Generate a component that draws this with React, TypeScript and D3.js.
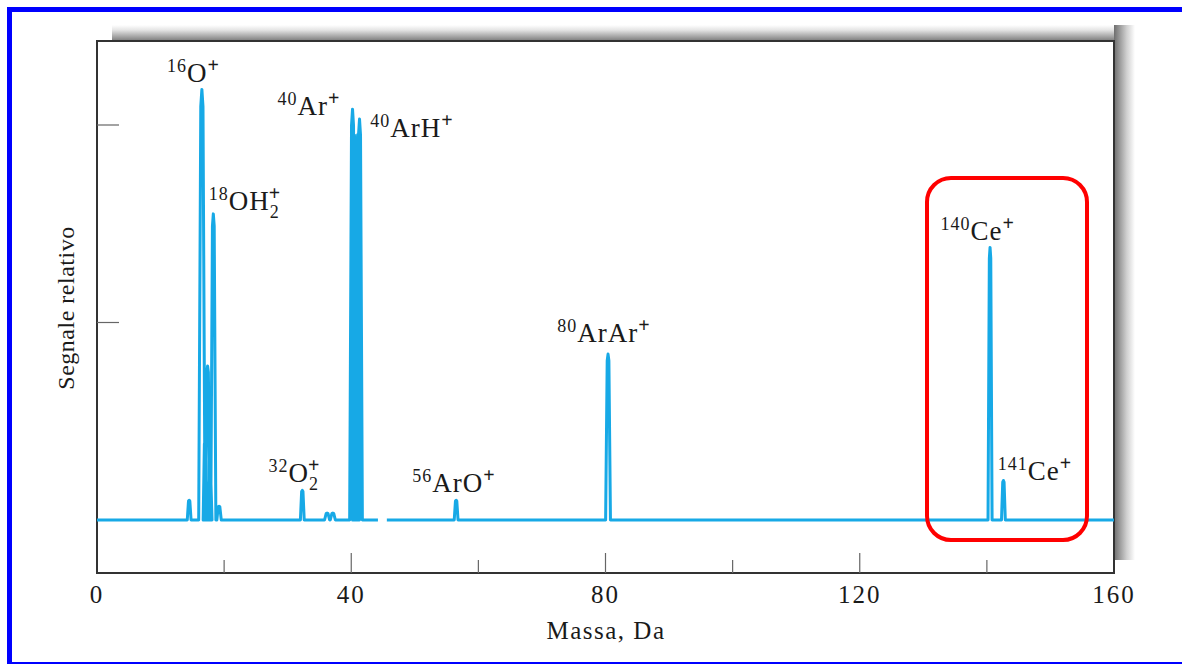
import React from "react";
import * as d3 from "d3";

// ---- data ----
const peakMass = [14.5, 16.5, 17.0, 17.4, 17.8, 18.3, 19.2, 32.3, 36.2, 37.1, 40.2, 40.5, 40.75, 41.0, 41.3, 56.5, 80.4, 140.5, 142.6];
const peakHeight = [0.10, 2.18, 0.40, 0.78, 0.22, 1.55, 0.07, 0.15, 0.035, 0.035, 2.08, 1.95, 1.90, 1.95, 2.03, 0.10, 0.84, 1.38, 0.20];
const peakWidth = [0.3, 0.5, 0.3, 0.35, 0.3, 0.4, 0.35, 0.3, 0.4, 0.4, 0.45, 0.3, 0.3, 0.3, 0.45, 0.3, 0.38, 0.32, 0.3];
const baselineSegments: [number, number][] = [[0, 44.2], [45.6, 160]];

const xTicks = [20, 40, 60, 80, 100, 120, 140];
const xMajor = [40, 80, 120];
const xTickLabels = [0, 40, 80, 120, 160];
const yTicks = [1, 2];

type Part = { t: string; k: "n" | "sup" | "supsub" };
const labelMass = [11.0, 17.6, 27.0, 28.4, 43.0, 49.6, 72.4, 132.7, 141.7];
const labelValue = [2.22, 1.57, 0.192, 2.05, 1.94, 0.142, 0.90, 1.418, 0.203];
const labelParts: Part[][] = [
  [{ t: "16", k: "sup" }, { t: "O", k: "n" }, { t: "+", k: "sup" }],
  [{ t: "18", k: "sup" }, { t: "OH", k: "n" }, { t: "2|+", k: "supsub" }],
  [{ t: "32", k: "sup" }, { t: "O", k: "n" }, { t: "2|+", k: "supsub" }],
  [{ t: "40", k: "sup" }, { t: "Ar", k: "n" }, { t: "+", k: "sup" }],
  [{ t: "40", k: "sup" }, { t: "ArH", k: "n" }, { t: "+", k: "sup" }],
  [{ t: "56", k: "sup" }, { t: "ArO", k: "n" }, { t: "+", k: "sup" }],
  [{ t: "80", k: "sup" }, { t: "ArAr", k: "n" }, { t: "+", k: "sup" }],
  [{ t: "140", k: "sup" }, { t: "Ce", k: "n" }, { t: "+", k: "sup" }],
  [{ t: "141", k: "sup" }, { t: "Ce", k: "n" }, { t: "+", k: "sup" }],
];

const W = 1182, H = 664;
const L = 97, R = 1114, T = 41, B = 573;
const x = d3.scaleLinear().domain([0, 160]).range([L, R]);
const y = d3.scaleLinear().domain([0, 2]).range([520, 125]);

function buildSegments(): [number, number][][] {
  return baselineSegments.map(([a, b]) => {
    const pts: [number, number][] = [[a, 0]];
    peakMass.forEach((m, i) => {
      if (m < a || m > b) return;
      const w = peakWidth[i], h = peakHeight[i];
      pts.push([m - w, 0], [m - w * 0.35, h * 0.96], [m, h], [m + w * 0.35, h * 0.96], [m + w, 0]);
    });
    pts.push([b, 0]);
    return pts;
  });
}

const SERIF = "'Liberation Serif', 'Times New Roman', serif";

function Label({ parts, px, py }: { parts: Part[]; px: number; py: number }) {
  const big = 27, small = 18;
  return (
    <text x={px} y={py} fontFamily={SERIF} fill="#1a1a1a" letterSpacing={1}>
      {parts.map((p, i) => {
        if (p.k === "n") return <tspan key={i} fontSize={big} y={py}>{p.t}</tspan>;
        if (p.k === "sup")
          return (
            <tspan key={i} fontSize={p.t === "+" ? 20 : small} fontWeight={p.t === "+" ? 700 : 400} y={py - 10}>
              {p.t}
            </tspan>
          );
        const [sub, sup] = p.t.split("|");
        return (
          <React.Fragment key={i}>
            <tspan fontSize={small} y={py + 8}>{sub}</tspan>
            <tspan fontSize={20} fontWeight={700} dx={-11} y={py - 10}>{sup}</tspan>
          </React.Fragment>
        );
      })}
    </text>
  );
}

export default function App() {
  const line = d3.line<[number, number]>().x((d) => x(d[0])).y((d) => y(d[1]));
  const segs = buildSegments();
  return (
    <svg width={W} height={H} style={{ position: "absolute", left: 0, top: 0, background: "#fff" }}>
      <defs>
        <linearGradient id="shTop" x1="0" y1="0" x2="0" y2="1">
          <stop offset="0" stopColor="#fff" />
          <stop offset="0.3" stopColor="#e6e6e6" />
          <stop offset="1" stopColor="#7a7a7a" />
        </linearGradient>
        <linearGradient id="shRight" x1="0" y1="0" x2="1" y2="0">
          <stop offset="0" stopColor="#6e6e6e" />
          <stop offset="0.6" stopColor="#cfcfcf" />
          <stop offset="1" stopColor="#fff" />
        </linearGradient>
      </defs>
      {/* blue frame */}
      <rect x={7} y={7} width={W - 7} height={5} fill="#0000ff" />
      <rect x={7} y={7} width={5} height={H - 7} fill="#0000ff" />
      <rect x={7} y={662} width={W - 7} height={2} fill="#0000ff" />
      {/* shadow */}
      <rect x={112} y={25} width={R - 112 + 2} height={T - 25} fill="url(#shTop)" />
      <rect x={R} y={25} width={21} height={560 - 25} fill="url(#shRight)" />
      {/* plot box */}
      <rect x={L} y={T} width={R - L} height={B - T} fill="#fff" stroke="#333" strokeWidth={2} />
      {/* ticks */}
      {xTicks.map((t) => (
        <line key={t} x1={x(t)} x2={x(t)} y1={B} y2={B - (xMajor.includes(t) ? 20 : 13)} stroke="#666" strokeWidth={1.2} />
      ))}
      {yTicks.map((t) => (
        <line key={t} x1={L} x2={L + 22} y1={y(t)} y2={y(t)} stroke="#666" strokeWidth={1.2} />
      ))}
      {xTickLabels.map((t) => (
        <text key={t} x={x(t)} y={603} textAnchor="middle" fontFamily={SERIF} fontSize={25} letterSpacing={2} fill="#1a1a1a">
          {t}
        </text>
      ))}
      <text x={606} y={639} textAnchor="middle" fontFamily={SERIF} fontSize={25} letterSpacing={1.5} fill="#1a1a1a">
        Massa, Da
      </text>
      <text transform="translate(74,308) rotate(-90)" textAnchor="middle" fontFamily={SERIF} fontSize={24} letterSpacing={0.5} fill="#1a1a1a">
        Segnale relativo
      </text>
      {/* spectrum */}
      <g fill="none" stroke="#17a9e6" strokeWidth={3} strokeLinejoin="round">
        {segs.map((s, i) => (
          <path key={i} d={line(s) || ""} />
        ))}
      </g>
      {/* labels */}
      {labelParts.map((p, i) => (
        <Label key={i} parts={p} px={x(labelMass[i])} py={y(labelValue[i])} />
      ))}
      {/* red highlight */}
      <rect x={927} y={178} width={160} height={362} rx={24} ry={24} fill="none" stroke="#ff0000" strokeWidth={4} />
    </svg>
  );
}
